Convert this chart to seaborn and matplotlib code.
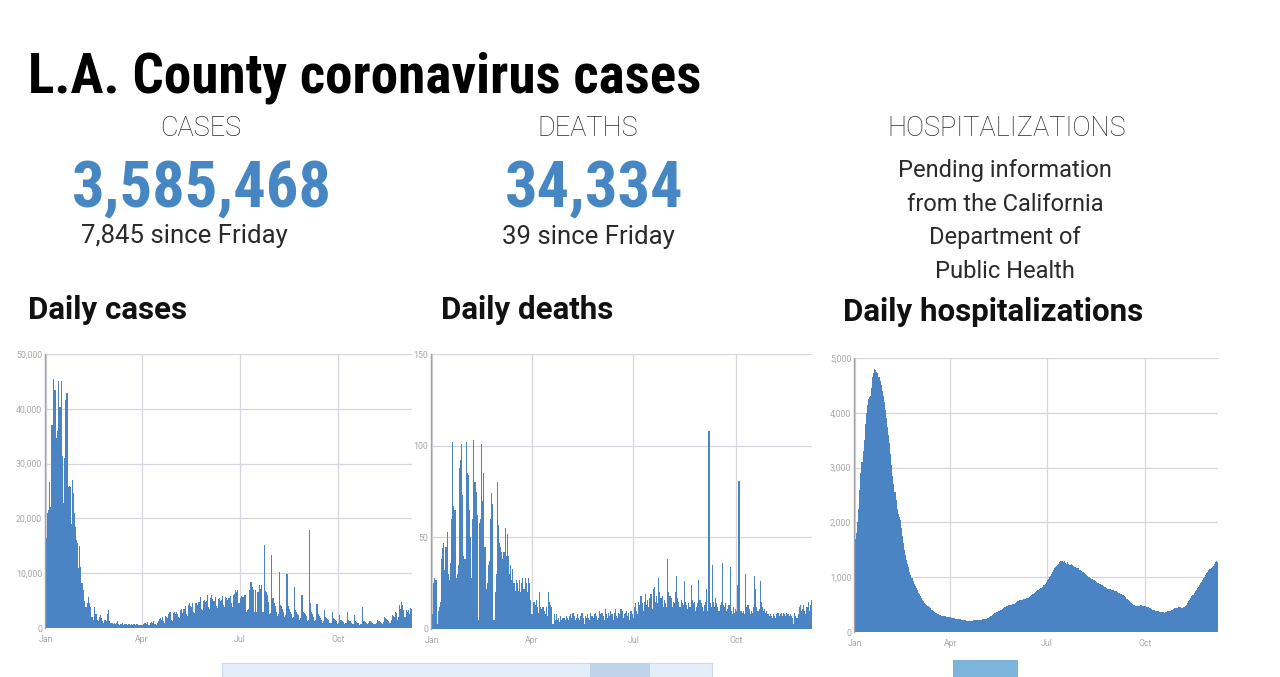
import numpy as np
import pandas as pd
import matplotlib
matplotlib.use("Agg")
import matplotlib.pyplot as plt
import seaborn as sns
from matplotlib.patches import Rectangle
from matplotlib.ticker import FuncFormatter

# ---------------- data (daily, starting Jan 1) ----------------
start_date = "2022-01-01"
month_labels = ["Jan", "Apr", "Jul", "Oct"]
month_dates = ["2022-01-01", "2022-04-01", "2022-07-01", "2022-10-01"]

# daily cases, in thousands
cases_thousands = [
    21, 16.5, 21, 21.5, 26.7, 22, 37,
    45.4, 43.5, 43.4, 34.7, 36, 45, 40.4,
    40.4, 45, 31.3, 22.8, 31, 41.6, 42.9,
    25.8, 26, 25.8, 19, 27, 24.6, 21,
    18.5, 16, 15.5, 11, 15, 11.2, 8.2,
    7, 5, 3.9, 3.9, 4.5, 5.7, 4.5,
    3.8, 2, 2, 1.5, 3.9, 2.5, 1.5,
    1.2, 2, 2.4, 1.8, 1.2, 1, 1.5,
    1.4, 1.2, 2.5, 3.3, 1.2, 1, 0.9,
    0.8, 1, 0.7, 0.9, 1.2, 0.7, 0.6,
    0.8, 0.7, 0.9, 0.6, 0.8, 0.7, 0.5,
    0.7, 0.8, 0.6, 0.7, 0.5, 0.8, 0.7,
    0.6, 0.7, 0.8, 0.5, 0.6, 0.6, 0.6,
    0.7, 0.9, 1.0, 0.8, 1.1, 0.6, 0.5,
    1.0, 1.1, 0.9, 1.2, 0.8, 0.6, 1.0,
    1.3, 1.6, 1.8, 1.5, 2.0, 1.2, 0.9,
    2.2, 2.0, 1.8, 2.5, 3.0, 1.5, 1.2,
    2.8, 3.0, 2.5, 3.0, 2.6, 2.0, 1.8,
    3.2, 3.5, 2.8, 3.4, 4.0, 2.5, 2.2,
    4.2, 4.5, 4.0, 3.8, 4.5, 3.0, 2.8,
    4.6, 4.5, 4.2, 4.8, 5.7, 3.5, 3.2,
    5.0, 5.2, 4.8, 5.0, 6.0, 3.8, 3.5,
    5.5, 6.0, 5.3, 5.0, 5.6, 4.0, 3.6,
    5.3, 5.5, 5.0, 5.2, 5.8, 4.2, 3.9,
    5.7, 5.5, 5.2, 5.5, 5.8, 4.5, 3.8,
    6.0, 6.2, 6.9, 6.5, 6.9, 4.5, 4.5,
    5.5, 5.8, 5.7, 6.0, 6.0, 3.0, 3.2,
    3.5, 7.0, 8.4, 8.4, 7.5, 6.9, 3.0,
    6.9, 3.0, 6.5, 7.8, 7.2, 7.8, 2.9,
    3.0, 15.2, 6.8, 6.6, 6.0, 4.8, 2.5,
    2.7, 13.4, 5.5, 4.5, 4.0, 3.0, 2.2,
    2.5, 10.2, 4.2, 4.0, 3.5, 3.0, 2.0,
    2.3, 9.9, 4.0, 3.5, 3.0, 2.6, 1.8,
    2.0, 7.5, 3.2, 3.0, 2.5, 2.4, 1.5,
    1.8, 6.0, 3.0, 2.8, 2.6, 2.2, 1.3,
    1.5, 17.8, 4.5, 3.0, 2.5, 2.0, 1.2,
    1.5, 4.4, 2.5, 2.2, 1.8, 1.5, 1.0,
    1.2, 3.3, 2.0, 1.8, 1.6, 1.4, 0.9,
    1.0, 3.0, 1.8, 1.6, 1.5, 1.2, 0.8,
    1.0, 2.4, 1.5, 1.4, 1.3, 1.1, 0.7,
    0.9, 3.0, 1.4, 1.3, 1.2, 1.0, 0.7,
    0.8, 2.4, 1.2, 1.1, 1.0, 0.9, 0.6,
    0.8, 3.9, 1.3, 1.2, 1.1, 1.0, 0.7,
    0.9, 1.3, 1.2, 1.1, 1.0, 0.8, 0.7,
    1.0, 1.5, 1.3, 1.2, 1.1, 0.9, 0.8,
    1.1, 2.0, 1.8, 1.6, 1.5, 1.2, 1.0,
    1.5, 2.4, 2.2, 2.0, 3.0, 2.8, 1.5,
    2.0, 4.2, 3.5, 4.8, 4.2, 3.3, 2.0,
    3.3, 3.0, 3.2, 2.5, 3.6, 3.5, 3.6,
]

daily_deaths = [
    2, 8, 25, 28, 27, 3, 10,
    12, 15, 38, 44, 47, 32, 45,
    53, 30, 27, 36, 60, 102, 67,
    65, 28, 30, 35, 88, 92, 101,
    73, 40, 38, 102, 85, 84, 65,
    50, 28, 60, 103, 80, 75, 62,
    5, 58, 60, 101, 70, 85, 45,
    22, 25, 35, 37, 60, 74, 68,
    5, 20, 30, 80, 57, 47, 45,
    42, 38, 42, 55, 40, 52, 40,
    30, 35, 27, 33, 25, 21, 27,
    25, 21, 27, 20, 25, 28, 22,
    28, 25, 20, 28, 25, 16, 8,
    8, 15, 13, 16, 12, 9, 20,
    12, 11, 12, 10, 8, 12, 7,
    20, 15, 13, 12, 3, 8, 5,
    8, 5, 6, 4, 7, 5, 6,
    6, 5, 7, 6, 5, 7, 8,
    6, 9, 7, 5, 6, 8, 6,
    5, 7, 9, 6, 3, 7, 6,
    8, 6, 5, 9, 7, 6, 8,
    9, 7, 5, 6, 10, 8, 9,
    7, 5, 11, 8, 6, 9, 7,
    10, 8, 5, 9, 11, 7, 6,
    9, 8, 11, 10, 6, 8, 9,
    10, 7, 9, 5, 10, 8, 6,
    12, 14, 10, 8, 15, 13, 18,
    14, 10, 15, 19, 13, 16, 12,
    17, 19, 11, 22, 23, 15, 18,
    14, 28, 20, 17, 18, 12, 16,
    14, 12, 38, 20, 18, 17, 12,
    15, 14, 20, 29, 17, 15, 12,
    16, 14, 13, 26, 15, 13, 11,
    14, 12, 24, 16, 14, 15, 10,
    12, 14, 27, 16, 14, 12, 10,
    13, 15, 22, 10, 108, 14, 12,
    35, 15, 12, 17, 14, 12, 10,
    13, 15, 36, 13, 12, 14, 10,
    11, 13, 34, 10, 8, 12, 9,
    11, 10, 24, 81, 10, 10, 9,
    10, 8, 30, 12, 13, 11, 8,
    10, 9, 12, 29, 22, 12, 10,
    11, 26, 15, 12, 10, 11, 9,
    10, 8, 7, 8, 7, 6, 8,
    7, 6, 8, 9, 7, 8, 9,
    7, 9, 8, 7, 9, 8, 7,
    8, 7, 6, 3, 9, 7, 6,
    8, 12, 13, 10, 11, 13, 10,
    8, 12, 15, 10, 13, 16, 15,
]

daily_hospitalizations = [
    1650, 1700, 1800, 2000, 2250, 2600, 2900,
    3100, 3300, 3500, 3800, 4000, 4150, 4250,
    4280, 4300, 4450, 4650, 4720, 4800, 4780,
    4750, 4720, 4650, 4580, 4500, 4400, 4300,
    4200, 4050, 3900, 3750, 3600, 3450, 3250,
    3050, 2850, 2700, 2550, 2400, 2250, 2150,
    2100, 2050, 1900, 1750, 1620, 1500, 1400,
    1320, 1250, 1180, 1100, 1040, 980, 930,
    880, 840, 800, 760, 720, 690, 660,
    620, 590, 560, 530, 510, 490, 470,
    450, 430, 410, 395, 380, 365, 350,
    340, 330, 320, 315, 305, 300, 295,
    290, 285, 280, 275, 270, 268, 265,
    262, 258, 255, 250, 245, 240, 238,
    235, 232, 230, 225, 220, 215, 210,
    208, 205, 205, 200, 200, 205, 205,
    210, 210, 215, 215, 220, 220, 225,
    225, 230, 230, 235, 240, 245, 250,
    260, 270, 285, 300, 315, 330, 345,
    360, 370, 380, 390, 400, 410, 425,
    440, 450, 460, 470, 480, 490, 495,
    500, 505, 510, 520, 530, 545, 560,
    570, 575, 580, 585, 590, 595, 600,
    605, 615, 625, 640, 655, 670, 685,
    700, 715, 730, 745, 760, 775, 790,
    800, 810, 830, 850, 880, 910, 940,
    970, 1000, 1030, 1060, 1100, 1140, 1170,
    1190, 1200, 1220, 1250, 1280, 1300, 1290,
    1280, 1300, 1260, 1250, 1270, 1240, 1220,
    1230, 1250, 1220, 1200, 1190, 1180, 1170,
    1160, 1140, 1130, 1110, 1100, 1090, 1070,
    1060, 1040, 1030, 1010, 1000, 990, 970,
    960, 950, 930, 920, 900, 890, 880,
    870, 860, 850, 840, 830, 820, 800,
    790, 780, 780, 770, 760, 760, 750,
    740, 740, 730, 720, 710, 700, 690,
    680, 670, 650, 630, 610, 590, 570,
    550, 530, 510, 500, 490, 480, 470,
    470, 480, 480, 490, 490, 480, 480,
    470, 460, 460, 450, 440, 430, 420,
    410, 400, 395, 390, 385, 380, 375,
    370, 365, 360, 360, 355, 360, 370,
    375, 380, 385, 390, 400, 410, 420,
    430, 440, 445, 450, 455, 450, 445,
    440, 450, 460, 470, 500, 530, 560,
    590, 620, 650, 680, 710, 740, 770,
    800, 830, 860, 890, 920, 950, 980,
    1010, 1040, 1070, 1100, 1130, 1150, 1170,
    1190, 1210, 1240, 1270, 1300, 1280, 1250,
]

total_cases = "3,585,468"
new_cases = "7,845 since Friday"
total_deaths = "34,334"
new_deaths = "39 since Friday"
hosp_note = "Pending information\nfrom the California\nDepartment of\nPublic Health"

# ---------------- style ----------------
BAR = "#4a84c4"
BLUE_NUM = "#4686c2"
GRID = "#d6d6de"
TICK = "#a8a8a8"
W, H = 1280, 677

sns.set_theme(style="white")
plt.rcParams["font.family"] = ["Roboto", "DejaVu Sans"]

fig = plt.figure(figsize=(W / 100, H / 100), dpi=100)
fig.patch.set_facecolor("white")
renderer = fig.canvas.get_renderer()


def fx(px):
    return px / W


def fy(py):
    return 1 - py / H


CONDENSED = ["Roboto Condensed", "DejaVu Sans Condensed", "Liberation Sans Narrow",
             "Roboto"]


def fitted_text(x, y, s, width_px, **kw):
    """place text and scale font size so the string spans width_px pixels"""
    t = fig.text(x, y, s, **kw)
    fs = t.get_fontsize()
    w = t.get_window_extent(renderer=renderer).width
    t.set_fontsize(fs * width_px / w)
    return t


# title
fitted_text(fx(28), fy(93), "L.A. County coronavirus cases", 672,
            family=CONDENSED, fontstretch="condensed", fontweight="heavy",
            fontsize=40, color="black", va="baseline", ha="left")

# stats headers
for cx, label in [(201, "CASES"), (588, "DEATHS"), (1007, "HOSPITALIZATIONS")]:
    fig.text(fx(cx), fy(128), label, fontsize=19.5, fontweight="light",
             color="#2a2a2a", ha="center", va="center")

fitted_text(fx(202), fy(207), total_cases, 260, family=CONDENSED,
            fontstretch="condensed", fontweight="bold", fontsize=40,
            color=BLUE_NUM, ha="center", va="baseline")
fitted_text(fx(594), fy(207), total_deaths, 178, family=CONDENSED,
            fontstretch="condensed", fontweight="bold", fontsize=40,
            color=BLUE_NUM, ha="center", va="baseline")
fig.text(fx(184), fy(236), new_cases, fontsize=18.5, color="#2a2a2a",
         ha="center", va="center")
fig.text(fx(588), fy(237), new_deaths, fontsize=18.5, color="#2a2a2a",
         ha="center", va="center")
fig.text(fx(1005), fy(221), hosp_note, fontsize=17, color="#2a2a2a",
         ha="center", va="center", linespacing=1.58)

# panel titles
for px, py, label in [(28, 310, "Daily cases"), (441, 310, "Daily deaths"),
                      (843, 312, "Daily hospitalizations")]:
    fig.text(fx(px), fy(py), label, fontsize=22.5, fontweight="bold",
             color="#111111", ha="left", va="center")

start = pd.Timestamp(start_date)
month_pos = [(pd.Timestamp(d) - start).days for d in month_dates]


def panel(box, values, ymax, ystep):
    l, t, r, b = box
    ax = fig.add_axes([fx(l), fy(b), (r - l) / W, (b - t) / H])
    df = pd.DataFrame({"day": np.arange(len(values)), "value": values})
    sns.barplot(data=df, x="day", y="value", native_scale=True, width=1.0,
                color=BAR, saturation=1, linewidth=0, errorbar=None, ax=ax)
    ax.set_xlim(-0.5, len(values) - 1.5)
    ax.set_ylim(0, ymax)
    ax.set_yticks(np.arange(0, ymax + 1, ystep))
    ax.yaxis.set_major_formatter(FuncFormatter(lambda v, p: f"{int(v):,}"))
    ax.set_xticks(month_pos)
    ax.set_xticklabels(month_labels)
    ax.set_xlabel("")
    ax.set_ylabel("")
    ax.grid(True, color=GRID, linewidth=0.9)
    ax.set_axisbelow(True)
    ax.tick_params(labelsize=6.3, colors=TICK, length=0)
    ax.tick_params(axis="x", pad=5)
    ax.tick_params(axis="y", pad=2)
    for s in ["top", "right", "bottom"]:
        ax.spines[s].set_visible(False)
    ax.spines["left"].set_color("#a0a0a8")
    ax.spines["left"].set_linewidth(1.0)
    ax.patch.set_alpha(0)
    return ax


cases = [v * 1000 for v in cases_thousands]
panel((45, 354, 412, 628), cases, 50000, 10000)
panel((431, 354, 812, 629), daily_deaths, 150, 50)
panel((854, 358, 1218, 632), daily_hospitalizations, 5000, 1000)

# cut-off navigator widgets at the bottom edge
fig.patches.append(Rectangle((fx(222), 0), (712 - 222) / W, (677 - 663) / H,
                             transform=fig.transFigure, facecolor="#e4eef8",
                             edgecolor="#c9d9ea", linewidth=0.8))
fig.patches.append(Rectangle((fx(590), 0), (650 - 590) / W, (677 - 663) / H,
                             transform=fig.transFigure, facecolor="#bed3e7",
                             edgecolor="none"))
fig.patches.append(Rectangle((fx(953), 0), (1018 - 953) / W, (677 - 660) / H,
                             transform=fig.transFigure, facecolor="#7db4dc",
                             edgecolor="none"))

fig.savefig("out.png", dpi=100, facecolor="white")
